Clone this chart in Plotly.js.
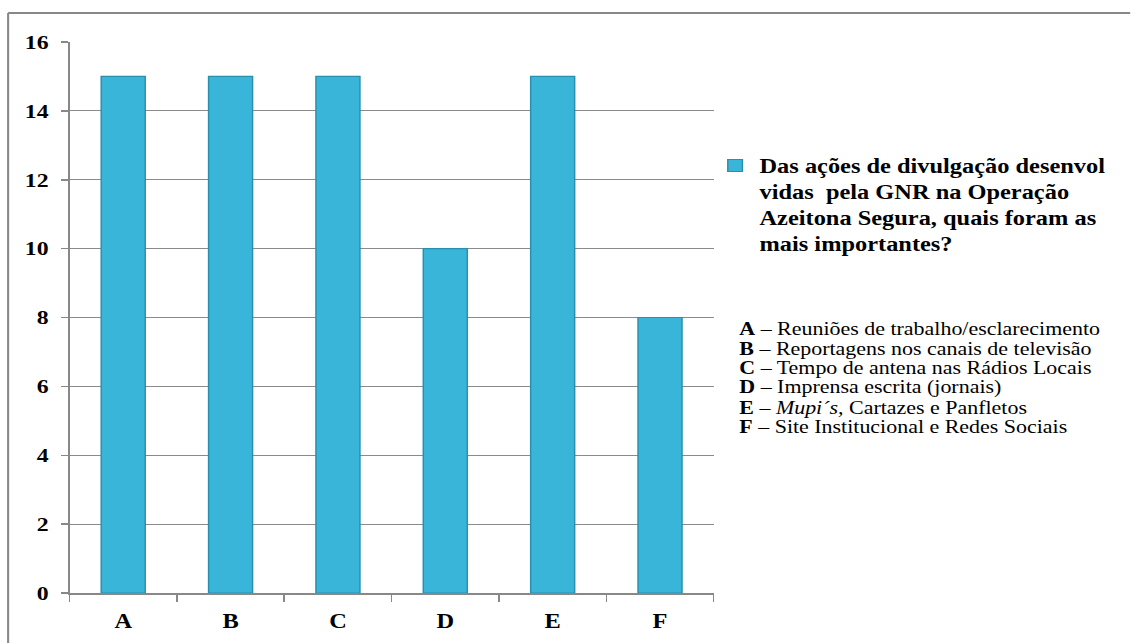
<!DOCTYPE html>
<html>
<head>
<meta charset="utf-8">
<script src="https://cdn.plot.ly/plotly-3.0.1.min.js"></script>
<style>
html,body{margin:0;padding:0;background:#fff;overflow:hidden;width:1131px;height:643px;}
#chart{width:927px;height:643px;transform:scaleX(1.22);transform-origin:0 0;}
</style>
</head>
<body>
<div id="chart"></div>
<script>
// Data
var categories = ["A", "B", "C", "D", "E", "F"];
var values = [15, 15, 15, 10, 15, 8];
var seriesName = "Das ações de divulgação desenvol<br>vidas\u00a0 pela GNR na Operação<br>Azeitona Segura, quais foram as<br>mais importantes?";
var descriptions = [
  "Reuniões de trabalho/esclarecimento",
  "Reportagens nos canais de televisão",
  "Tempo de antena nas Rádios Locais",
  "Imprensa escrita (jornais)",
  "<i>Mupi´s,</i> Cartazes e Panfletos",
  "Site Institucional e Redes Sociais"
];
var yTicks = [0, 2, 4, 6, 8, 10, 12, 14, 16];

// The reference picture is stretched horizontally; reproduce with a CSS scaleX.
var S = 1.22;
var serif = "Liberation Serif, Times New Roman, serif";
var W = 927, H = 643;
var plotL = 69 / S, plotR = 714 / S, plotT = 42, plotB = 593;
function px2x(p){ return (p / S - plotL) / (plotR - plotL); }
function py2y(p){ return (plotB - p) / (plotB - plotT); }

var trace = {
  type: "bar",
  x: categories,
  y: values,
  name: "<b>" + seriesName + "</b>",
  width: 0.41,
  marker: { color: "#39b5da", line: { color: "#2a8fad", width: 1.2 } },
  hoverinfo: "x+y"
};

var listY = [329, 349, 368.5, 388, 408, 427.5];
var annotations = categories.map(function(c, i){
  return {
    xref: "paper", yref: "paper",
    x: px2x(739), y: py2y(listY[i]),
    xanchor: "left", yanchor: "middle",
    showarrow: false,
    align: "left",
    borderpad: 0,
    text: "<b>" + c + "</b> – " + descriptions[i],
    font: { family: serif, size: 18, color: "#000" }
  };
});

var layout = {
  width: W, height: H,
  margin: { l: plotL, r: W - plotR, t: plotT, b: H - plotB, pad: 0 },
  paper_bgcolor: "#fff",
  plot_bgcolor: "#fff",
  showlegend: true,
  legend: {
    x: px2x(711), y: py2y(146),
    xanchor: "left", yanchor: "top",
    valign: "top",
    font: { family: serif, size: 20, color: "#000" },
    bgcolor: "rgba(0,0,0,0)",
    itemwidth: 30
  },
  xaxis: {
    type: "category",
    showline: true, linecolor: "#888", linewidth: 1.5,
    ticks: "outside", tickson: "boundaries", ticklen: 7, tickcolor: "#888", tickwidth: 1.3,
    tickfont: { family: serif, size: 20, color: "#000", weight: "bold" },
    ticklabelstandoff: 10,
    showgrid: false, zeroline: false
  },
  yaxis: {
    range: [0, 16],
    tickvals: yTicks,
    ticktext: yTicks.map(String),
    showline: true, linecolor: "#888", linewidth: 1.3,
    ticks: "outside", ticklen: 6, tickcolor: "#888", tickwidth: 1.5,
    tickfont: { family: serif, size: 19.5, color: "#000", weight: "bold" },
    ticklabelstandoff: 6,
    showgrid: true, gridcolor: "#8a8a8a", gridwidth: 1.2,
    zeroline: false
  },
  annotations: annotations,
  shapes: [
    { type: "line", xref: "paper", yref: "paper", x0: px2x(7.5), x1: px2x(1131), y0: py2y(13), y1: py2y(13), line: { color: "#888", width: 2 } },
    { type: "line", xref: "paper", yref: "paper", x0: px2x(7.5), x1: px2x(7.5), y0: py2y(13), y1: py2y(660), line: { color: "#888", width: 1.7 } }
  ]
};

Plotly.newPlot("chart", [trace], layout, { displayModeBar: false, staticPlot: true });
</script>
</body>
</html>
